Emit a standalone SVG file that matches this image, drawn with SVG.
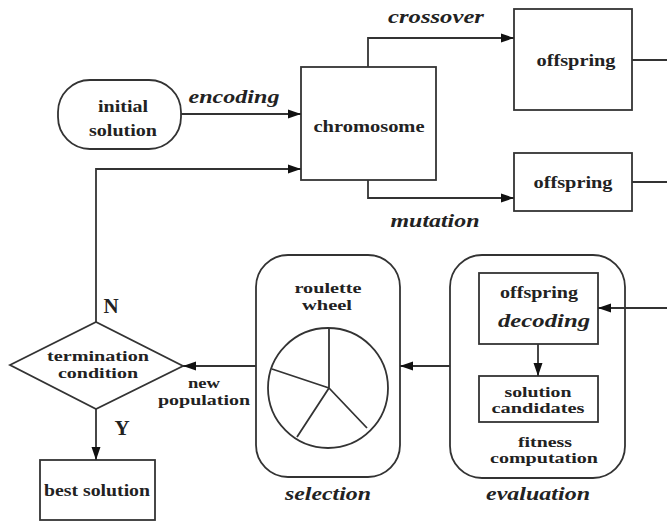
<svg xmlns="http://www.w3.org/2000/svg" width="667" height="522" viewBox="0 0 667 522">
<style>
.s{fill:#fff;stroke:#333;stroke-width:1.8}
.c{fill:none;stroke:#333;stroke-width:1.8}
.t{font-family:"Liberation Serif","Times New Roman",serif;font-weight:bold;font-size:16px;fill:#222;text-anchor:middle}
.n{font-family:"Liberation Serif","Times New Roman",serif;font-weight:bold;font-size:14.5px;fill:#222;text-anchor:middle}
.i{font-family:"Liberation Serif","Times New Roman",serif;font-weight:bold;font-style:italic;font-size:19px;fill:#222;text-anchor:middle}
.b{font-family:"Liberation Serif","Times New Roman",serif;font-weight:bold;font-size:21px;fill:#222;text-anchor:middle}
</style>
<defs>
<marker id="a" markerUnits="userSpaceOnUse" markerWidth="14" markerHeight="10" refX="13" refY="5" orient="auto">
<path d="M0,0.5 L13,5 L0,9.5 z" fill="#111"/>
</marker>
</defs>
<rect width="667" height="522" fill="#fff"/>
<g id="initial-solution">
<rect class="s" x="58" y="80" width="123" height="69" rx="32"/>
<text class="t" x="123" y="112" textLength="50" lengthAdjust="spacingAndGlyphs">initial</text>
<text class="t" x="123" y="136" textLength="68" lengthAdjust="spacingAndGlyphs">solution</text>
</g>
<g id="chromosome">
<rect class="s" x="301" y="67" width="135" height="113"/>
<text class="t" x="369" y="132" textLength="111" lengthAdjust="spacingAndGlyphs">chromosome</text>
</g>
<g id="offspring-1">
<rect class="s" x="514" y="9" width="118" height="101"/>
<text class="t" x="576" y="66" textLength="79" lengthAdjust="spacingAndGlyphs">offspring</text>
</g>
<g id="offspring-2">
<rect class="s" x="514" y="153" width="118" height="58"/>
<text class="t" x="573" y="188" textLength="79" lengthAdjust="spacingAndGlyphs">offspring</text>
</g>
<g id="evaluation">
<rect class="s" x="450" y="255" width="175" height="223" rx="32"/>
<rect class="s" x="479" y="273" width="119" height="71"/>
<text class="t" x="539" y="298" textLength="78" lengthAdjust="spacingAndGlyphs">offspring</text>
<text class="i" x="544" y="327" textLength="92" lengthAdjust="spacingAndGlyphs">decoding</text>
<rect class="s" x="479" y="376" width="119" height="46"/>
<text class="n" x="538" y="397" textLength="67" lengthAdjust="spacingAndGlyphs">solution</text>
<text class="n" x="538" y="413" textLength="93" lengthAdjust="spacingAndGlyphs">candidates</text>
<text class="n" x="545" y="447" textLength="54" lengthAdjust="spacingAndGlyphs">fitness</text>
<text class="n" x="544" y="463" textLength="108" lengthAdjust="spacingAndGlyphs">computation</text>
<text class="i" x="538" y="500" textLength="104" lengthAdjust="spacingAndGlyphs">evaluation</text>
</g>
<g id="selection">
<rect class="s" x="256" y="255" width="144" height="222" rx="32"/>
<text class="n" x="328" y="293" textLength="67" lengthAdjust="spacingAndGlyphs">roulette</text>
<text class="n" x="327" y="310" textLength="50" lengthAdjust="spacingAndGlyphs">wheel</text>
<circle class="s" cx="328" cy="388" r="60"/>
<path class="c" d="M329,328 V388 M329,388 L272,369 M329,388 L297,437 M329,388 L367,428" stroke-width="1.5"/>
<text class="i" x="328" y="500" textLength="86" lengthAdjust="spacingAndGlyphs">selection</text>
</g>
<g id="termination">
<path class="s" d="M10,365 L96,322 L183,366 L96,409 z"/>
<text class="n" x="98" y="361" textLength="102" lengthAdjust="spacingAndGlyphs">termination</text>
<text class="n" x="98" y="378" textLength="80" lengthAdjust="spacingAndGlyphs">condition</text>
</g>
<g id="best-solution">
<rect class="s" x="40" y="460" width="115" height="60"/>
<text class="t" x="97" y="496" textLength="106" lengthAdjust="spacingAndGlyphs">best solution</text>
</g>
<g id="connectors">
<path class="c" d="M181,114 H301" marker-end="url(#a)"/>
<path class="c" d="M96,322 V169 H301" marker-end="url(#a)"/>
<path class="c" d="M368,67 V38 H514" marker-end="url(#a)"/>
<path class="c" d="M368,180 V198 H514" marker-end="url(#a)"/>
<path class="c" d="M632,60 H667"/>
<path class="c" d="M632,182 H667"/>
<path class="c" d="M667,308 H598" marker-end="url(#a)"/>
<path class="c" d="M538,344 V376" marker-end="url(#a)"/>
<path class="c" d="M450,366 H400" marker-end="url(#a)"/>
<path class="c" d="M256,366 H183" marker-end="url(#a)"/>
<path class="c" d="M96,409 V460" marker-end="url(#a)"/>
<text class="i" x="234" y="103" textLength="91" lengthAdjust="spacingAndGlyphs">encoding</text>
<text class="i" x="436" y="23" textLength="96" lengthAdjust="spacingAndGlyphs">crossover</text>
<text class="i" x="435" y="227" textLength="89" lengthAdjust="spacingAndGlyphs">mutation</text>
<text class="n" x="204" y="388" textLength="32" lengthAdjust="spacingAndGlyphs">new</text>
<text class="n" x="204" y="405" textLength="92" lengthAdjust="spacingAndGlyphs">population</text>
<text class="b" x="111" y="313">N</text>
<text class="b" x="122" y="435">Y</text>
</g>
</svg>
